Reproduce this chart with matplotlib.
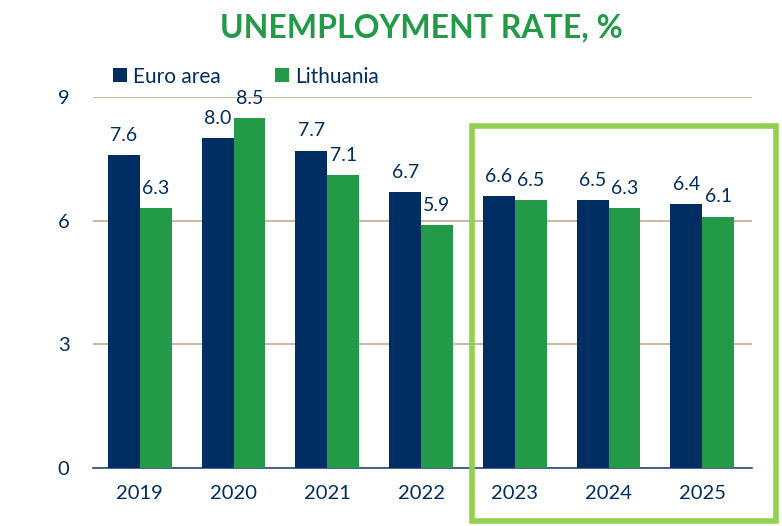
import numpy as np
import matplotlib.pyplot as plt
from matplotlib.patches import Rectangle

# data
years = ['2019', '2020', '2021', '2022', '2023', '2024', '2025']
euro_area = [7.6, 8.0, 7.7, 6.7, 6.6, 6.5, 6.4]
lithuania = [6.3, 8.5, 7.1, 5.9, 6.5, 6.3, 6.1]

navy = '#002d62'
green = '#229a48'
plt.rcParams['font.family'] = ['Lato', 'DejaVu Sans']

fig = plt.figure(figsize=(7.82, 5.26), dpi=100)
ax = fig.add_axes([93/782, 1-468/526, (752-93)/782, (468-97)/526])

x = np.arange(len(years))
w = 0.34
b1 = ax.bar(x - w/2, euro_area, w, color=navy, label='Euro area', zorder=3)
b2 = ax.bar(x + w/2, lithuania, w, color=green, label='Lithuania', zorder=3)
for bars, vals in ((b1, euro_area), (b2, lithuania)):
    for r, v in zip(bars, vals):
        ax.annotate(f'{v:.1f}', (r.get_x() + r.get_width()/2, v), xytext=(0, 8),
                    textcoords='offset points', ha='center', va='bottom',
                    fontsize=14, color=navy)

ax.set_xlim(-0.5, 6.53)
ax.set_ylim(0, 9)
ax.set_yticks([0, 3, 6, 9])
ax.set_xticks(x)
ax.set_xticklabels(years)
ax.yaxis.grid(True, color='#cbbba5', lw=1.5, zorder=0)
for s in ('top', 'right', 'left'):
    ax.spines[s].set_visible(False)
ax.spines['bottom'].set_color('#2a4a7a')
ax.spines['bottom'].set_linewidth(1.2)
ax.tick_params(axis='both', length=0, labelsize=14.5, labelcolor=navy)
ax.tick_params(axis='x', pad=12)
ax.tick_params(axis='y', pad=17)

fig.text(421/782, 1-28/526, 'UNEMPLOYMENT RATE, %', ha='center', va='center',
         fontsize=23, fontweight='bold', color=green)
ax.legend(loc='lower left', bbox_to_anchor=(0.015, 1.0), ncol=2, frameon=False,
          fontsize=15, handlelength=0.65, handleheight=0.65, handletextpad=0.3,
          columnspacing=2.6, labelcolor=navy, borderaxespad=0.1)

# highlight box around forecast years
fig.patches.append(Rectangle((472/782, 1-521/526), (776-472)/782, (521-126)/526,
                             transform=fig.transFigure, fill=False,
                             edgecolor='#92d050', lw=4, zorder=5))

fig.savefig('out.png', dpi=100)
